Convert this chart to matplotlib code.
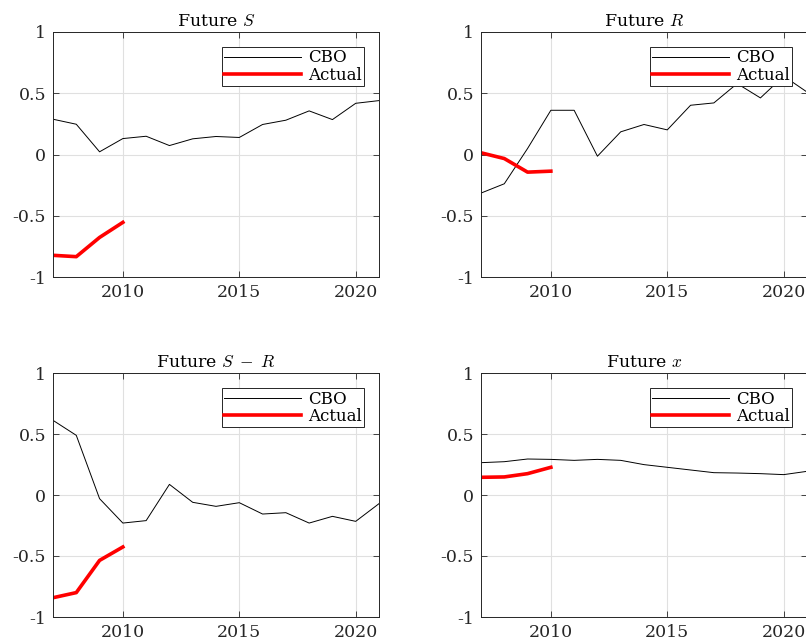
import matplotlib
matplotlib.use('Agg')
import matplotlib.pyplot as plt

plt.rcParams['font.family'] = ['DejaVu Serif']
plt.rcParams['mathtext.fontset'] = 'cm'

years = list(range(2007, 2022))
years_actual = [2007, 2008, 2009, 2010]

titles = [r'Future $S$', r'Future $R$', r'Future $S\;-\;R$', r'Future $x$']

cbo_S = [0.288, 0.247, 0.022, 0.130, 0.149, 0.073, 0.128, 0.147, 0.139, 0.245, 0.280, 0.356, 0.285, 0.418, 0.440]
act_S = [-0.823, -0.834, -0.677, -0.554]

cbo_R = [-0.315, -0.239, 0.049, 0.361, 0.361, -0.014, 0.185, 0.245, 0.201, 0.402, 0.421, 0.579, 0.462, 0.640, 0.510]
act_R = [0.014, -0.033, -0.144, -0.136]

cbo_SR = [0.612, 0.489, -0.030, -0.230, -0.210, 0.087, -0.060, -0.093, -0.063, -0.156, -0.145, -0.230, -0.175, -0.216, -0.071]
act_SR = [-0.842, -0.800, -0.536, -0.426]

cbo_x = [0.265, 0.273, 0.295, 0.292, 0.284, 0.292, 0.284, 0.249, 0.227, 0.205, 0.183, 0.180, 0.175, 0.167, 0.194]
act_x = [0.145, 0.148, 0.175, 0.227]

cbo_all = [cbo_S, cbo_R, cbo_SR, cbo_x]
act_all = [act_S, act_R, act_SR, act_x]

fig = plt.figure(figsize=(8.06, 6.42), dpi=100)
W, H = 806, 642
boxes = [(53, 32, 326, 245), (481, 32, 326, 245),
         (53, 373, 326, 244), (481, 373, 326, 244)]

for (px, py, pw, ph), title, cbo, act in zip(boxes, titles, cbo_all, act_all):
    ax = fig.add_axes([px / W, 1 - (py + ph) / H, pw / W, ph / H])
    ax.plot(years, cbo, color='black', lw=0.7, label='CBO')
    ax.plot(years_actual, act, color='#ff0000', lw=2.6, label='Actual')
    ax.set_xlim(2007, 2021)
    ax.set_ylim(-1, 1)
    ax.set_xticks([2010, 2015, 2020])
    ax.set_yticks([-1, -0.5, 0, 0.5, 1])
    ax.set_yticklabels(['-1', '-0.5', '0', '0.5', '1'])
    ax.grid(True, color='#e0e0e0', lw=0.8)
    ax.set_axisbelow(True)
    ax.tick_params(direction='in', top=True, right=True, labelsize=12.5,
                   colors='#262626', length=4, width=0.6, pad=5)
    for s in ax.spines.values():
        s.set_color('#262626')
        s.set_linewidth(0.7)
    ax.set_title(title, fontsize=12.5, pad=4)
    leg = ax.legend(loc='upper right', fontsize=12, handlelength=4.6,
                    fancybox=False, framealpha=1, edgecolor='#262626',
                    borderpad=0.15, labelspacing=0.0, handletextpad=0.4,
                    borderaxespad=0.9)
    leg.get_frame().set_linewidth(0.7)

fig.savefig('out.png', dpi=100)
